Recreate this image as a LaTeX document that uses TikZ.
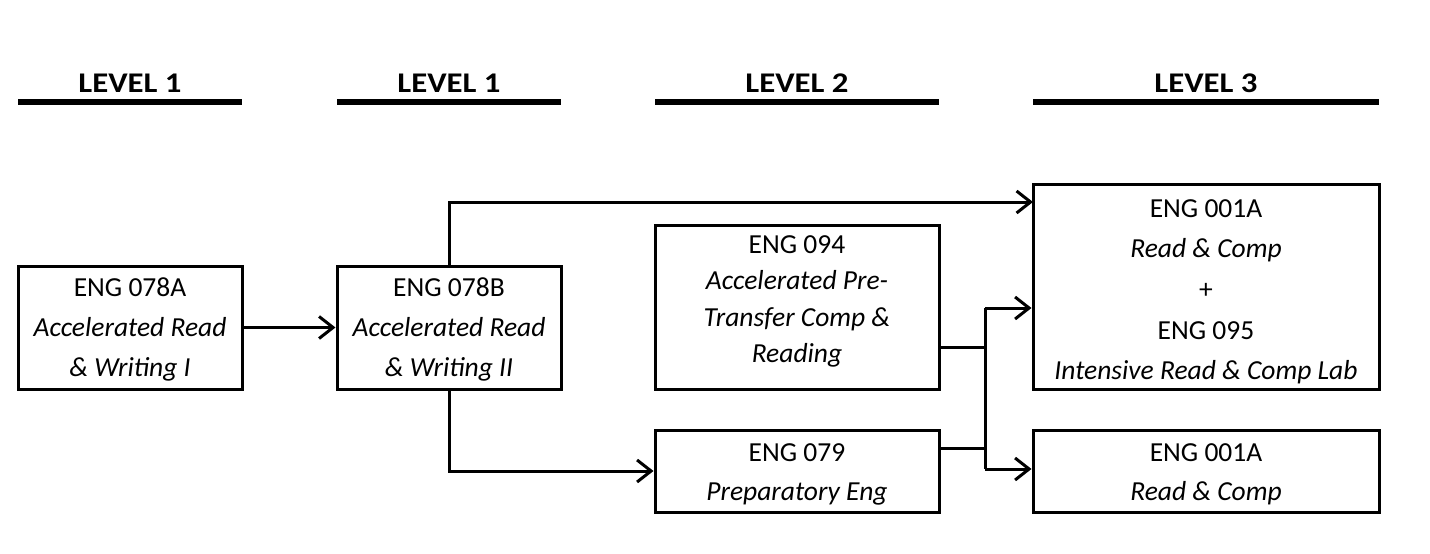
\documentclass[tikz,border=0pt]{standalone}
\usepackage{fontspec}
\setmainfont{Carlito}
\newfontfamily\hdrfont{Carlito}[FakeStretch=1.15]
\usetikzlibrary{arrows.meta}
\begin{document}
\begin{tikzpicture}[x=1pt,y=-1pt,
  box/.style={draw,line width=3pt,rectangle,inner sep=0pt},
  lbl/.style={anchor=base,inner sep=0pt,font=\fontsize{27.5}{33}\selectfont},
  ilbl/.style={lbl,font=\fontsize{27.5}{33}\selectfont\itshape},
  hdr/.style={anchor=base,inner sep=0pt,font=\hdrfont\fontsize{28.5}{33}\selectfont\bfseries},
  hline/.style={line width=6pt},
  conn/.style={line width=3pt},
  arr/.style={conn,-{Straight Barb[length=14pt,width=22pt]}}]
\useasboundingbox (0,0) rectangle (1430,554);
% headers
\node[hdr] (h1) at (130,92) {LEVEL 1};
\node[hdr] (h2) at (449,92) {LEVEL 1};
\node[hdr] (h3) at (797,92) {LEVEL 2};
\node[hdr] (h4) at (1206,92) {LEVEL 3};
\draw[hline] (18,102) -- (242,102);
\draw[hline] (337,102) -- (561,102);
\draw[hline] (655,102) -- (939,102);
\draw[hline] (1033,102) -- (1379,102);
% boxes
\node[box,minimum width=224pt,minimum height=123pt] (A) at (130,327.5) {};
\node[box,minimum width=224pt,minimum height=123pt] (B) at (449,327.5) {};
\node[box,minimum width=284pt,minimum height=164pt] (C) at (797,307) {};
\node[box,minimum width=284pt,minimum height=82pt] (D) at (797,471) {};
\node[box,minimum width=346pt,minimum height=205pt] (E) at (1206,286.5) {};
\node[box,minimum width=346pt,minimum height=82pt] (F) at (1206,471) {};
% texts
\node[lbl] (a1) at (130,296) {ENG 078A};
\node[ilbl] (a2) at (130,336) {Accelerated Read};
\node[ilbl] (a3) at (130,376) {\& Writing I};
\node[lbl] (b1) at (449,296) {ENG 078B};
\node[ilbl] (b2) at (449,336) {Accelerated Read};
\node[ilbl] (b3) at (449,376) {\& Writing II};
\node[lbl] (c1) at (797,253) {ENG 094};
\node[ilbl] (c2) at (797,289) {Accelerated Pre-};
\node[ilbl] (c3) at (797,326) {Transfer Comp \&};
\node[ilbl] (c4) at (797,362) {Reading};
\node[lbl] (d1) at (797,461) {ENG 079};
\node[ilbl] (d2) at (797,500) {Preparatory Eng};
\node[lbl] (e1) at (1206,217) {ENG 001A};
\node[ilbl] (e2) at (1206,257) {Read \& Comp};
\node[lbl] (e3) at (1206,298) {+};
\node[lbl] (e4) at (1206,339) {ENG 095};
\node[ilbl] (e5) at (1206,379) {Intensive Read \& Comp Lab};
\node[lbl] (f1) at (1206,461) {ENG 001A};
\node[ilbl] (f2) at (1206,500) {Read \& Comp};
% connectors
\coordinate (tE) at (1033,202);
\coordinate (jC) at (985,347);
\coordinate (jD) at (985,448);
\coordinate (jE) at (985,308);
\coordinate (jF) at (985,469);
\draw[arr] (A.east) -- (B.west);
\draw[arr] (B.north) |- (tE);
\draw[arr] (B.south) |- (D.west);
\draw[conn] (C.east |- jC) -- (jC);
\draw[conn] (D.east |- jD) -- (jD);
\draw[conn] (jE) -- (jF);
\draw[arr] (jE) -- (E.west |- jE);
\draw[arr] (jF) -- (F.west |- jF);
\end{tikzpicture}
\end{document}
